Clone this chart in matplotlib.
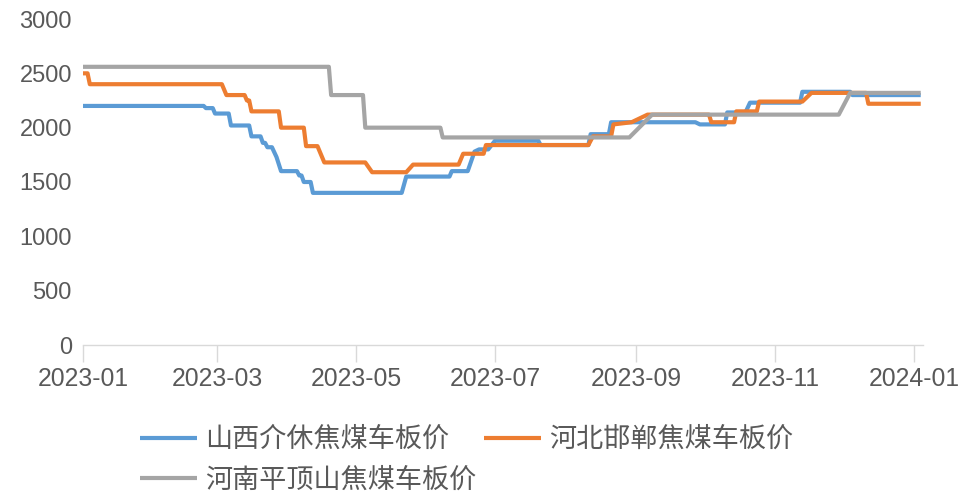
import matplotlib
matplotlib.use("Agg")
import matplotlib.pyplot as plt
import pandas as pd

# Coking coal ex-works prices (CNY/t), vertices of each daily price line
shanxi_dates = ["2023-01-01", "2023-02-23", "2023-02-24", "2023-02-27", "2023-02-28",
                "2023-03-06", "2023-03-07", "2023-03-15", "2023-03-16", "2023-03-20",
                "2023-03-21", "2023-03-22", "2023-03-23", "2023-03-25", "2023-03-27",
                "2023-03-29", "2023-04-05", "2023-04-06", "2023-04-07", "2023-04-08",
                "2023-04-11", "2023-04-12", "2023-05-21", "2023-05-23", "2023-06-11",
                "2023-06-12", "2023-06-19", "2023-06-22", "2023-06-24", "2023-06-28",
                "2023-07-01", "2023-07-20", "2023-07-21", "2023-08-11", "2023-08-12",
                "2023-08-20", "2023-08-21", "2023-09-27", "2023-09-29", "2023-10-10",
                "2023-10-11", "2023-10-19", "2023-10-21", "2023-11-12", "2023-11-13",
                "2023-12-04", "2023-12-05", "2024-01-04"]
shanxi_vals = [2200, 2200, 2180, 2180, 2130,
               2130, 2020, 2020, 1920, 1920,
               1860, 1860, 1820, 1820, 1730,
               1600, 1600, 1560, 1560, 1500,
               1500, 1400, 1400, 1550, 1550,
               1600, 1600, 1780, 1800, 1800,
               1880, 1880, 1840, 1840, 1940,
               1940, 2050, 2050, 2030, 2030,
               2140, 2140, 2230, 2230, 2330,
               2330, 2300, 2300]

hebei_dates = ["2023-01-01", "2023-01-03", "2023-01-04", "2023-03-03", "2023-03-05",
               "2023-03-13", "2023-03-14", "2023-03-15", "2023-03-16", "2023-03-28",
               "2023-03-29", "2023-04-08", "2023-04-09", "2023-04-14", "2023-04-17",
               "2023-05-05", "2023-05-08", "2023-05-23", "2023-05-26", "2023-06-15",
               "2023-06-17", "2023-06-26", "2023-06-27", "2023-08-11", "2023-08-13",
               "2023-08-21", "2023-08-22", "2023-08-30", "2023-09-06", "2023-10-03",
               "2023-10-04", "2023-10-14", "2023-10-15", "2023-10-24", "2023-10-25",
               "2023-11-13", "2023-11-17", "2023-12-11", "2023-12-12", "2024-01-04"]
hebei_vals = [2500, 2500, 2400, 2400, 2300,
              2300, 2250, 2250, 2150, 2150,
              2000, 2000, 1830, 1830, 1680,
              1680, 1590, 1590, 1660, 1660,
              1760, 1760, 1840, 1840, 1920,
              1920, 2030, 2050, 2120, 2120,
              2050, 2050, 2150, 2150, 2240,
              2240, 2320, 2320, 2220, 2220]

henan_dates = ["2023-01-01", "2023-04-19", "2023-04-20", "2023-05-04", "2023-05-05",
               "2023-06-07", "2023-06-08", "2023-08-29", "2023-09-08", "2023-11-29",
               "2023-12-04", "2024-01-04"]
henan_vals = [2560, 2560, 2300, 2300, 2000,
              2000, 1910, 1910, 2120, 2120,
              2320, 2320]

series_names = ["山西介休焦煤车板价", "河北邯郸焦煤车板价", "河南平顶山焦煤车板价"]
series_colors = ["#5B9BD5", "#ED7D31", "#A5A5A5"]

tick_dates = ["2023-01-01", "2023-03-01", "2023-05-01", "2023-07-01",
              "2023-09-01", "2023-11-01", "2024-01-01"]
tick_labels = ["2023-01", "2023-03", "2023-05", "2023-07", "2023-09", "2023-11", "2024-01"]
y_ticks = [0, 500, 1000, 1500, 2000, 2500, 3000]

plt.rcParams["font.family"] = ["Liberation Sans", "DejaVu Sans"]

fig = plt.figure(figsize=(9.6, 4.95), dpi=100)
ax = fig.add_axes([83 / 960, 1 - 345 / 495, (923 - 83) / 960, (345 - 19) / 495])

lines = []
for dates, vals, name, color in zip(
        [shanxi_dates, hebei_dates, henan_dates],
        [shanxi_vals, hebei_vals, henan_vals],
        series_names, series_colors):
    ln, = ax.plot(pd.to_datetime(dates), vals, color=color, lw=3.0,
                  label=name, solid_joinstyle="round", solid_capstyle="butt")
    lines.append(ln)

ax.set_ylim(0, 3000)
ax.set_xlim(pd.Timestamp("2023-01-01"), pd.Timestamp("2024-01-05"))
ax.set_yticks(y_ticks)
ax.set_xticks(pd.to_datetime(tick_dates))
ax.set_xticklabels(tick_labels)

for side in ["left", "right", "top"]:
    ax.spines[side].set_visible(False)
ax.spines["bottom"].set_color("#D9D9D9")
ax.spines["bottom"].set_linewidth(1.0)

ax.tick_params(axis="x", direction="out", length=12, width=1.0, color="#D9D9D9",
               labelsize=17.8, labelcolor="#595959", pad=3.5)
ax.tick_params(axis="y", length=0, labelsize=17, labelcolor="#595959", pad=8)

leg = fig.legend([lines[0], lines[2], lines[1]],
                 [series_names[0], series_names[2], series_names[1]],
                 ncol=2, loc="upper left", bbox_to_anchor=(140 / 960, 1 - 426 / 495),
                 frameon=False, borderpad=0, borderaxespad=0,
                 handlelength=2.1, handletextpad=0.3, columnspacing=0.3,
                 labelspacing=0.5,
                 prop={"family": ["Noto Sans CJK SC", "DejaVu Sans"], "size": 19.5})
for t in leg.get_texts():
    t.set_color("#595959")

fig.savefig("out.png", dpi=100)
